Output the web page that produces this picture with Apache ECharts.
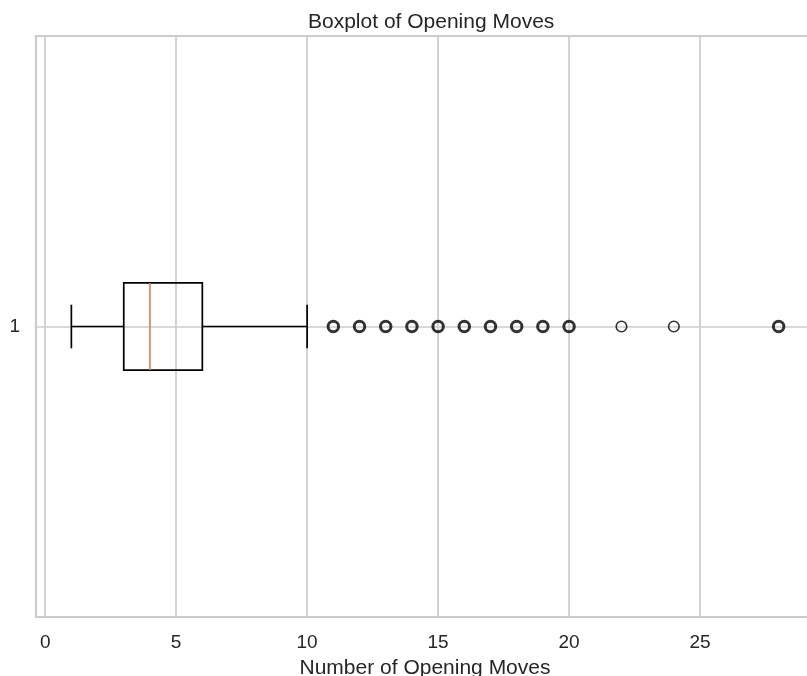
<!DOCTYPE html>
<html>
<head>
<meta charset="utf-8">
<script src="https://cdn.jsdelivr.net/npm/echarts@6/dist/echarts.min.js"></script>
<style>
  html, body { margin: 0; padding: 0; background: #ffffff; }
  #chart { width: 807px; height: 676px; }
</style>
</head>
<body>
<div id="chart"></div>
<script>
// Five-number summary of the opening-move counts (whisker low, Q1, median, Q3, whisker high)
const boxCategory = 1;
const boxStats = [1, 3, 4, 6, 10];

// Points beyond the whiskers and how many games share each value
const outlierValues = [11, 12, 13, 14, 15, 16, 17, 18, 19, 20, 22, 24, 28];
const outlierCounts = [412, 310, 205, 160, 98, 61, 37, 22, 14, 9, 1, 1, 3];

// Axis ranges and tick labels
const xRange = [-0.35, 29.35];
const yRange = [0.5, 1.5];
const xTickLabels = [0, 5, 10, 15, 20, 25];
const yTickLabels = [1];

const FONT = '"Liberation Sans", Arial, sans-serif';
const TEXT = '#262626';
const GRID = '#cccccc';
const BOX_WIDTH = 0.15;

const chart = echarts.init(document.getElementById('chart'), null, { renderer: 'canvas' });

function renderBox(params, api) {
  const y = api.value(0);
  const lo = api.value(1), q1 = api.value(2), med = api.value(3), q3 = api.value(4), hi = api.value(5);
  const pLo = api.coord([lo, y]);
  const pQ1 = api.coord([q1, y]);
  const pMed = api.coord([med, y]);
  const pQ3 = api.coord([q3, y]);
  const pHi = api.coord([hi, y]);
  const half = Math.abs(api.size([0, BOX_WIDTH])[1]) / 2;
  const cap = half / 2;
  const stroke = { stroke: '#000000', lineWidth: 1.7, fill: null };
  return {
    type: 'group',
    children: [
      { type: 'line', shape: { x1: pLo[0], y1: pLo[1], x2: pQ1[0], y2: pQ1[1] }, style: stroke },
      { type: 'line', shape: { x1: pQ3[0], y1: pQ3[1], x2: pHi[0], y2: pHi[1] }, style: stroke },
      { type: 'line', shape: { x1: pLo[0], y1: pLo[1] - cap, x2: pLo[0], y2: pLo[1] + cap }, style: stroke },
      { type: 'line', shape: { x1: pHi[0], y1: pHi[1] - cap, x2: pHi[0], y2: pHi[1] + cap }, style: stroke },
      { type: 'rect', shape: { x: pQ1[0], y: pQ1[1] - half, width: pQ3[0] - pQ1[0], height: half * 2 },
        style: { stroke: '#000000', lineWidth: 1.7, fill: 'rgba(0,0,0,0)' } },
      { type: 'line', shape: { x1: pMed[0], y1: pMed[1] - half, x2: pMed[0], y2: pMed[1] + half },
        style: { stroke: '#DD8452', lineWidth: 1.7 } }
    ]
  };
}

const outlierData = outlierValues.map((v, i) => ({
  value: [v, boxCategory],
  itemStyle: {
    color: 'rgba(0,0,0,0)',
    borderColor: '#000000',
    borderWidth: outlierCounts[i] > 1 ? 3 : 1.6
  }
}));

const isTick = (v, list) => list.some(t => Math.abs(t - v) < 1e-6);

chart.setOption({
  animation: false,
  backgroundColor: '#ffffff',
  textStyle: { fontFamily: FONT },
  title: {
    text: 'Boxplot of Opening Moves',
    left: 303,
    top: 7,
    textStyle: { fontFamily: FONT, fontSize: 21, fontWeight: 'normal', color: TEXT }
  },
  grid: {
    left: 36, right: -7, top: 36, bottom: 59,
    outerBoundsMode: 'none',
    containLabel: false,
    show: true, borderColor: GRID, borderWidth: 2.2, backgroundColor: '#ffffff'
  },
  xAxis: {
    type: 'value',
    min: xRange[0], max: xRange[1],
    minInterval: 5, maxInterval: 5,
    name: 'Number of Opening Moves',
    nameLocation: 'middle',
    nameGap: 41,
    nameTextStyle: { fontFamily: FONT, fontSize: 21, color: TEXT },
    axisLine: { show: false },
    axisTick: { show: false },
    axisLabel: {
      margin: 16, fontFamily: FONT, fontSize: 19, color: TEXT,
      formatter: v => isTick(v, xTickLabels) ? String(Math.round(v)) : ''
    },
    splitLine: { show: true, lineStyle: { color: GRID, width: 1.7 } }
  },
  yAxis: {
    type: 'value',
    min: yRange[0], max: yRange[1],
    splitNumber: 1, minInterval: 1,
    axisLine: { show: false },
    axisTick: { show: false },
    axisLabel: {
      margin: 16, fontFamily: FONT, fontSize: 19, color: TEXT,
      formatter: v => isTick(v, yTickLabels) ? String(Math.round(v)) : ''
    },
    splitLine: { show: true, lineStyle: { color: GRID, width: 1.7 } }
  },
  series: [
    {
      type: 'custom',
      renderItem: renderBox,
      encode: { x: [1, 2, 3, 4, 5], y: 0 },
      data: [[boxCategory].concat(boxStats)],
      z: 3
    },
    {
      type: 'scatter',
      symbol: 'circle',
      symbolSize: 10.5,
      data: outlierData,
      z: 4
    }
  ]
});
</script>
</body>
</html>
